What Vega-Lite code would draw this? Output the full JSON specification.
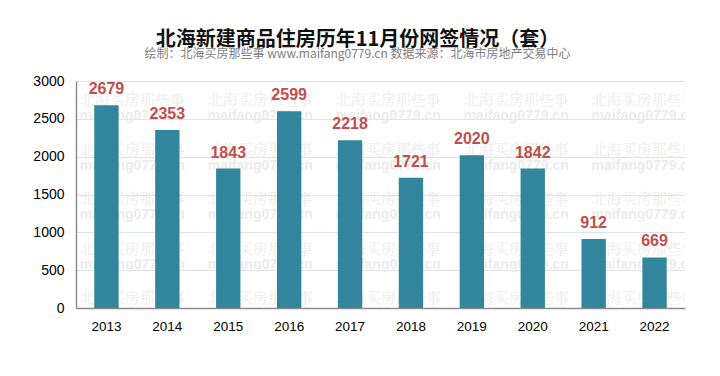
{
  "$schema": "https://vega.github.io/schema/vega-lite/v6.json",
  "autosize": "none",
  "width": 609,
  "height": 227,
  "padding": {"left": 76, "top": 81, "right": 35, "bottom": 68},
  "background": "white",
  "config": {"view": {"stroke": null}},
  "title": {
    "text": "北海新建商品住房历年11月份网签情况（套）",
    "subtitle": "绘制：北海买房那些事 www.maifang0779.cn 数据来源：北海市房地产交易中心",
    "anchor": "middle",
    "dx": -23,
    "offset": 14,
    "font": "Noto Sans CJK SC",
    "fontSize": 20,
    "fontWeight": "bold",
    "color": "#111111",
    "subtitleFont": "Noto Sans CJK SC",
    "subtitleFontSize": 12,
    "subtitleColor": "#808080",
    "subtitlePadding": -1
  },
  "datasets": {
    "sales": [
      {"year": "2013", "count": 2679},
      {"year": "2014", "count": 2353},
      {"year": "2015", "count": 1843},
      {"year": "2016", "count": 2599},
      {"year": "2017", "count": 2218},
      {"year": "2018", "count": 1721},
      {"year": "2019", "count": 2020},
      {"year": "2020", "count": 1842},
      {"year": "2021", "count": 912},
      {"year": "2022", "count": 669}
    ],
    "wm": [
      {"c": 0, "r": 0}, {"c": 1, "r": 0}, {"c": 2, "r": 0}, {"c": 3, "r": 0}, {"c": 4, "r": 0},
      {"c": 0, "r": 1}, {"c": 1, "r": 1}, {"c": 2, "r": 1}, {"c": 3, "r": 1}, {"c": 4, "r": 1},
      {"c": 0, "r": 2}, {"c": 1, "r": 2}, {"c": 2, "r": 2}, {"c": 3, "r": 2}, {"c": 4, "r": 2},
      {"c": 0, "r": 3}, {"c": 1, "r": 3}, {"c": 2, "r": 3}, {"c": 3, "r": 3}, {"c": 4, "r": 3},
      {"c": 0, "r": 4}, {"c": 1, "r": 4}, {"c": 2, "r": 4}, {"c": 3, "r": 4}, {"c": 4, "r": 4}
    ]
  },
  "layer": [
    {
      "data": {"name": "wm"},
      "layer": [
        {
          "mark": {"type": "text", "clip": true, "align": "left", "baseline": "middle",
                   "font": "Noto Serif CJK SC, Noto Sans CJK SC", "fontSize": 15, "letterSpacing": 1.5, "color": "#ececec",
                   "text": "北海买房那些事"},
          "encoding": {
            "x": {"field": "c", "type": "quantitative", "scale": {"domain": [-0.03, 4.73], "nice": false, "zero": false}, "axis": null},
            "y": {"field": "r", "type": "quantitative", "scale": {"domain": [-0.384, 4.202], "nice": false, "zero": false, "reverse": true}, "axis": null}
          }
        },
        {
          "mark": {"type": "text", "clip": true, "align": "left", "baseline": "middle", "dy": 16,
                   "font": "Liberation Sans", "fontSize": 14, "fontWeight": "bold", "color": "#ececec",
                   "text": "maifang0779.cn"},
          "encoding": {
            "x": {"field": "c", "type": "quantitative", "scale": {"domain": [-0.03, 4.73], "nice": false, "zero": false}, "axis": null},
            "y": {"field": "r", "type": "quantitative", "scale": {"domain": [-0.384, 4.202], "nice": false, "zero": false, "reverse": true}, "axis": null}
          }
        }
      ]
    },
    {
      "data": {"name": "sales"},
      "encoding": {
        "x": {
          "field": "year", "type": "ordinal",
          "scale": {"paddingInner": 0.6, "paddingOuter": 0.3},
          "axis": {
            "title": null, "labelAngle": 0, "ticks": false, "labelPadding": 11,
            "labelFont": "Liberation Sans", "labelFontSize": 13.5, "labelColor": "#000000",
            "domainColor": "#8c8c8c", "domainWidth": 1.5, "grid": false
          }
        },
        "y": {
          "field": "count", "type": "quantitative",
          "scale": {"domain": [0, 3000]},
          "axis": {
            "title": null, "values": [0, 500, 1000, 1500, 2000, 2500, 3000], "format": "d",
            "ticks": false, "labelPadding": 12,
            "labelFont": "Liberation Sans", "labelFontSize": 14, "labelColor": "#000000",
            "domainColor": "#8c8c8c", "domainWidth": 1.5,
            "grid": true, "gridColor": "#dce3ea", "gridWidth": 1
          }
        }
      },
      "layer": [
        {
          "mark": {"type": "bar", "color": "#31859c"}
        },
        {
          "mark": {"type": "text", "baseline": "bottom", "dy": -8, "font": "Liberation Sans",
                   "fontSize": 16, "fontWeight": "bold", "color": "#c0504d"},
          "encoding": {
            "text": {"field": "count", "type": "quantitative"}
          }
        }
      ]
    }
  ],
  "resolve": {"scale": {"x": "independent", "y": "independent"}}
}
